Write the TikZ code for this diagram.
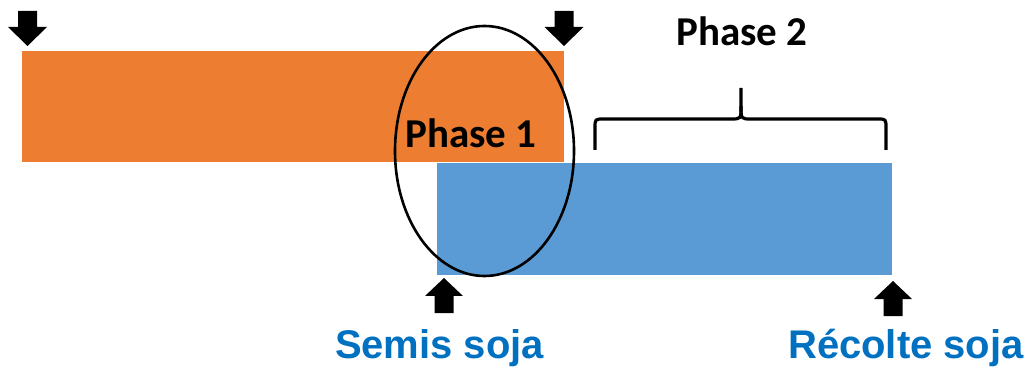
\documentclass[tikz,border=0pt]{standalone}
\usepackage{fontspec}
\setmainfont{Carlito}
\newfontfamily\arialfont{Liberation Sans}
\definecolor{cropOrange}{HTML}{ED7D31}
\definecolor{cropBlue}{HTML}{5B9BD5}
\definecolor{labelBlue}{HTML}{0070C0}
\tikzset{
  bar/.style={draw=none, inner sep=0pt, outer sep=0pt, anchor=north west},
  phaselabel/.style={font=\bfseries\fontsize{41}{45}\selectfont, inner sep=0pt},
  droplabel/.style={font=\arialfont\bfseries\fontsize{40}{44}\selectfont, text=labelBlue, inner sep=0pt},
  dnarrow/.pic={\fill[black] (-9.5,0) -- (9.5,0) -- (9.5,16) -- (19.5,16) -- (0,35) -- (-19.5,16) -- (-9.5,16) -- cycle;},
  uparrow/.pic={\fill[black] (-9.5,0) -- (9.5,0) -- (9.5,-17) -- (19,-17) -- (0,-35) -- (-19,-17) -- (-9.5,-17) -- cycle;},
}
\begin{document}
\begin{tikzpicture}[x=1pt,y=-1pt]
\useasboundingbox (0,0) rectangle (1025,371);
% bars
\node[bar, fill=cropOrange, minimum width=542pt, minimum height=111pt] (cover) at (22,51) {};
\node[bar, fill=cropBlue, minimum width=455pt, minimum height=112pt] (soy) at (437,163) {};
% ellipse
\draw[line width=2.6pt] (484.5,151) ellipse [x radius=89.5, y radius=125];
\node[phaselabel] (p1) at (471,133) {Phase 1};
% brace
\draw[line width=3.2pt, line cap=butt, line join=round]
  (595,150) -- (595,128) .. controls (595,119) .. (604,119) -- (731,119)
  .. controls (741,119) .. (741,106) -- (741,88);
\draw[line width=3.2pt, line cap=butt, line join=round]
  (886,150) -- (886,128) .. controls (886,119) .. (877,119) -- (751,119)
  .. controls (741,119) .. (741,106);
\node[phaselabel] (p2) at (742,31) {Phase 2};
% arrows
\pic at (27.5,11) {dnarrow};
\pic at (564,11) {dnarrow};
\pic at (444,313) {uparrow};
\pic at (893,316) {uparrow};
% labels
\node[droplabel] (semis) at (439.5,348) {Semis soja};
\node[droplabel] (recolte) at (906,348) {Récolte soja};
\end{tikzpicture}
\end{document}
